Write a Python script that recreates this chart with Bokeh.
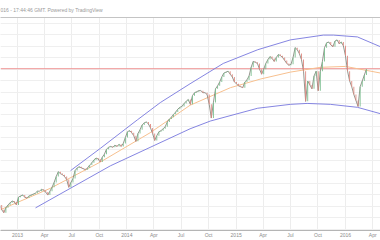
import pandas as pd
from bokeh.plotting import figure
from bokeh.models import (FixedTicker, SingleIntervalTicker, Grid, Range1d,
                          DatetimeAxis, ColumnDataSource)
from bokeh.embed import file_html
from bokeh.resources import INLINE

# ---- data (weekly closes) ----
start_date = "2012-11-02"
close = [1456, 1435, 1422, 1443, 1456, 1465, 1473, 1469, 1456, 1490,
         1495, 1499, 1490, 1486, 1495, 1499, 1503, 1507, 1516, 1516,
         1524, 1520, 1512, 1499, 1516, 1533, 1554, 1580, 1601, 1593,
         1588, 1580, 1567, 1533, 1554, 1571, 1606, 1618, 1623, 1618,
         1614, 1610, 1618, 1631, 1640, 1653, 1661, 1657, 1644, 1665,
         1678, 1700, 1708, 1712, 1708, 1717, 1712, 1721, 1712, 1725,
         1751, 1776, 1781, 1772, 1759, 1734, 1768, 1785, 1806, 1815,
         1819, 1810, 1793, 1768, 1738, 1759, 1776, 1781, 1789, 1798,
         1819, 1832, 1840, 1853, 1862, 1875, 1883, 1887, 1900, 1909,
         1917, 1896, 1934, 1947, 1951, 1956, 1956, 1947, 1947, 1939,
         1896, 1836, 1904, 1964, 1977, 1994, 2016, 2033, 2037, 2041,
         2028, 2016, 1994, 1986, 1977, 1973, 1969, 1994, 2003, 2020,
         2058, 2084, 2080, 2075, 2050, 2028, 2050, 2075, 2092, 2105,
         2097, 2084, 2101, 2114, 2109, 2101, 2088, 2075, 2067, 2071,
         2101, 2144, 2135, 2118, 2092, 2041, 1909, 1998, 1981, 1964,
         2020, 2041, 1956, 2041, 2084, 2144, 2165, 2169, 2156, 2148,
         2173, 2178, 2161, 2169, 2152, 2109, 2041, 1998, 1973, 1939,
         1913, 1887, 1973, 1998, 2024, 2050]

mid_dates = ["2012-11-05", "2013-04-21", "2013-10-05", "2014-03-20", "2014-07-31",
             "2014-12-13", "2015-03-24", "2015-07-01", "2015-10-09", "2016-01-01",
             "2016-04-27"]
mid_vals = [1435, 1529, 1644, 1772, 1892, 1969, 2007, 2037, 2058, 2062, 2033]

upper_dates = ["2013-06-27", "2013-10-05", "2014-02-05", "2014-04-23", "2014-07-31",
               "2014-11-19", "2015-03-14", "2015-07-01", "2015-10-19", "2015-11-22",
               "2016-02-10", "2016-04-27"]
upper_vals = [1606, 1704, 1828, 1904, 1986, 2075, 2135, 2178, 2199, 2199, 2191, 2148]

lower_dates = ["2013-03-02", "2013-11-07", "2014-07-31", "2014-10-07", "2015-03-14",
               "2015-07-01", "2015-08-26", "2015-11-12", "2016-02-10", "2016-04-27"]
lower_vals = [1443, 1627, 1789, 1823, 1879, 1896, 1900, 1896, 1883, 1855]

level = 2050

tick_dates = ["2013-01-01", "2013-04-01", "2013-07-01", "2013-10-01",
              "2014-01-01", "2014-04-01", "2014-07-01", "2014-10-01",
              "2015-01-01", "2015-04-01", "2015-07-01", "2015-10-01",
              "2016-01-01", "2016-04-01"]
tick_labels = ["2013", "Apr", "Jul", "Oct", "2014", "Apr", "Jul", "Oct",
               "2015", "Apr", "Jul", "Oct", "2016", "Apr"]

title_text = "016 - 17:44:46 GMT. Powered by TradingView"

# ---- build ----
dates = pd.date_range(start_date, periods=len(close), freq="7D")
prev = [close[0]] + close[:-1]
up_col, dn_col = "#7cbf90", "#e08a80"
src = ColumnDataSource(dict(
    x=dates, close=close,
    top=[max(a, b) for a, b in zip(prev, close)],
    bottom=[min(a, b) for a, b in zip(prev, close)],
    color=[up_col if c >= o else dn_col for o, c in zip(prev, close)],
))

p = figure(width=380, height=240, x_axis_type="datetime",
           x_range=Range1d(pd.Timestamp("2012-11-05"), pd.Timestamp("2016-04-27")),
           y_range=Range1d(1344, 2276),
           y_axis_location=None, output_backend="svg", toolbar_location=None,
           min_border_left=0, min_border_right=0, min_border_top=15, min_border_bottom=0,
           background_fill_color="white", border_fill_color="white")
p.outline_line_color = None

p.title.text = title_text
p.title.text_font = "Liberation Sans"
p.title.text_font_size = "5px"
p.title.text_font_style = "normal"
p.title.text_color = "#9a9a9a"
p.title.align = "left"
p.title.offset = 0
p.title.standoff = 9

ticks_ms = [float(pd.Timestamp(d).value // 10**6) for d in tick_dates]
xa = p.xaxis[0]
xa.ticker = FixedTicker(ticks=ticks_ms)
xa.major_label_overrides = {t: l for t, l in zip(ticks_ms, tick_labels)}
xa.major_tick_out = 0
xa.major_tick_in = 0
xa.minor_tick_out = 0
xa.minor_tick_in = 0
xa.axis_line_color = "#b5b5b5"
xa.major_label_text_font = "Liberation Sans"
xa.major_label_text_font_size = "5px"
xa.major_label_text_color = "#8c8c8c"
xa.major_label_standoff = 1

top_axis = DatetimeAxis(ticker=FixedTicker(ticks=[]), major_tick_out=0, major_tick_in=0,
                        minor_tick_out=0, minor_tick_in=0,
                        major_label_text_font_size="0px", axis_line_color="#c4c4c4")
p.add_layout(top_axis, "above")

p.xgrid.ticker = FixedTicker(ticks=ticks_ms)
p.xgrid.grid_line_color = "#ededed"
p.add_layout(Grid(dimension=1, ticker=SingleIntervalTicker(interval=50),
                  grid_line_color="#efefef"))

# horizontal level line
p.line([pd.Timestamp("2012-11-05"), pd.Timestamp("2016-04-27")], [level + 2, level + 2],
       line_color="#ef9595", line_width=1)
# curved channel
p.line(pd.to_datetime(mid_dates), mid_vals, line_color="#f7c08f", line_width=1)
p.line(pd.to_datetime(upper_dates), upper_vals, line_color="#7777de", line_width=0.9)
p.line(pd.to_datetime(lower_dates), lower_vals, line_color="#7777de", line_width=0.9)

# price
p.line("x", "close", source=src, line_color="#7a7a70", line_width=0.8)
p.vbar(x="x", width=3 * 86400000, top="top", bottom="bottom", source=src,
       fill_color="color", line_color=None)

open("out.html", "w").write(file_html(p, INLINE))
